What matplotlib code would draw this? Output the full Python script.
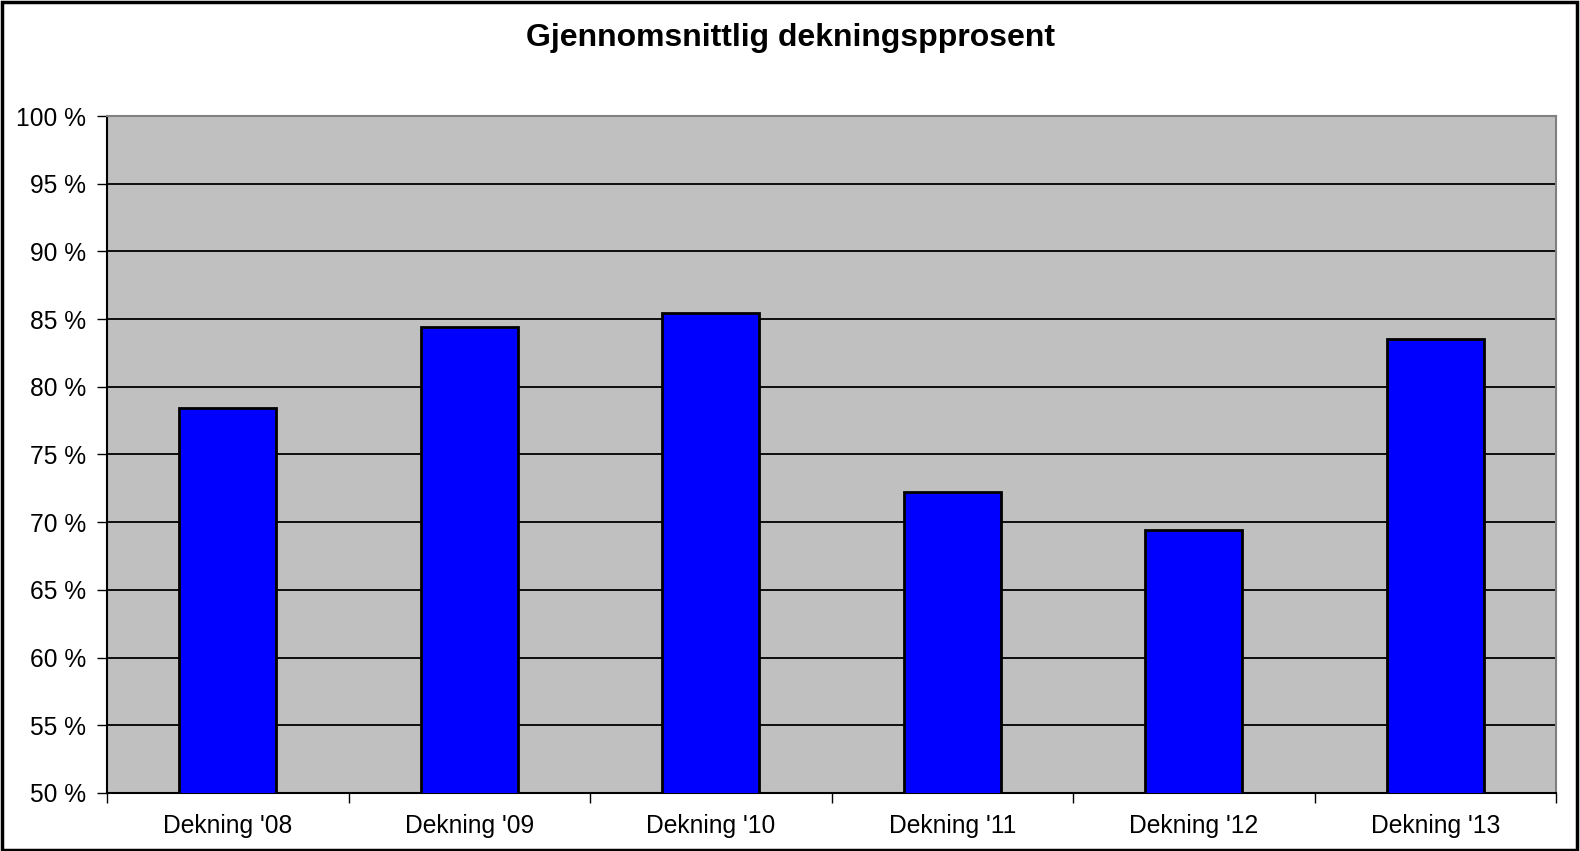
import matplotlib
matplotlib.use("Agg")
import matplotlib.pyplot as plt
from matplotlib.patches import Rectangle

categories = ["Dekning '08", "Dekning '09", "Dekning '10", "Dekning '11", "Dekning '12", "Dekning '13"]
values = [78.4, 84.45, 85.45, 72.25, 69.45, 83.55]
yticks = [50, 55, 60, 65, 70, 75, 80, 85, 90, 95, 100]
ytick_labels = ["{} %".format(t) for t in yticks]

plt.rcParams["font.family"] = ["Liberation Sans", "DejaVu Sans"]

fig = plt.figure(figsize=(15.8, 8.51), dpi=100)
ax = fig.add_axes([107 / 1580, 1 - 793 / 851, (1556 - 107) / 1580, (793 - 116) / 851])
ax.set_facecolor("#c0c0c0")

x = list(range(len(categories)))
ax.bar(x, values, width=0.4, color="#0000ff", edgecolor="black", linewidth=2, zorder=3)

ax.set_xlim(-0.5, len(categories) - 0.5)
ax.set_ylim(50, 100)
ax.set_yticks(yticks)
ax.set_yticklabels(ytick_labels, fontsize=17.7)
ax.set_xticks(x)
ax.set_xticklabels(categories, fontsize=17.7)
ax.tick_params(axis="x", length=0, pad=15)
ax.set_xticks([i - 0.5 for i in range(len(categories) + 1)], minor=True)
ax.tick_params(axis="x", which="minor", length=7, width=1)
ax.tick_params(axis="y", length=7, width=1, pad=8)

ax.yaxis.grid(True, color="black", linewidth=1.3, zorder=1)
ax.set_axisbelow(True)

ax.spines["left"].set_color("black")
ax.spines["bottom"].set_color("black")
ax.spines["top"].set_color("#808080")
ax.spines["right"].set_color("#808080")
for s in ax.spines.values():
    s.set_linewidth(1.5)

fig.text(0.5002, 1 - 38 / 851, "Gjennomsnittlig dekningspprosent", ha="center", va="center",
         fontsize=23, fontweight="bold")

fig.patches.append(Rectangle((0.001, 0.001), 0.997, 0.997, transform=fig.transFigure,
                             fill=False, edgecolor="black", linewidth=2.5))

fig.savefig("out.png", dpi=100)
